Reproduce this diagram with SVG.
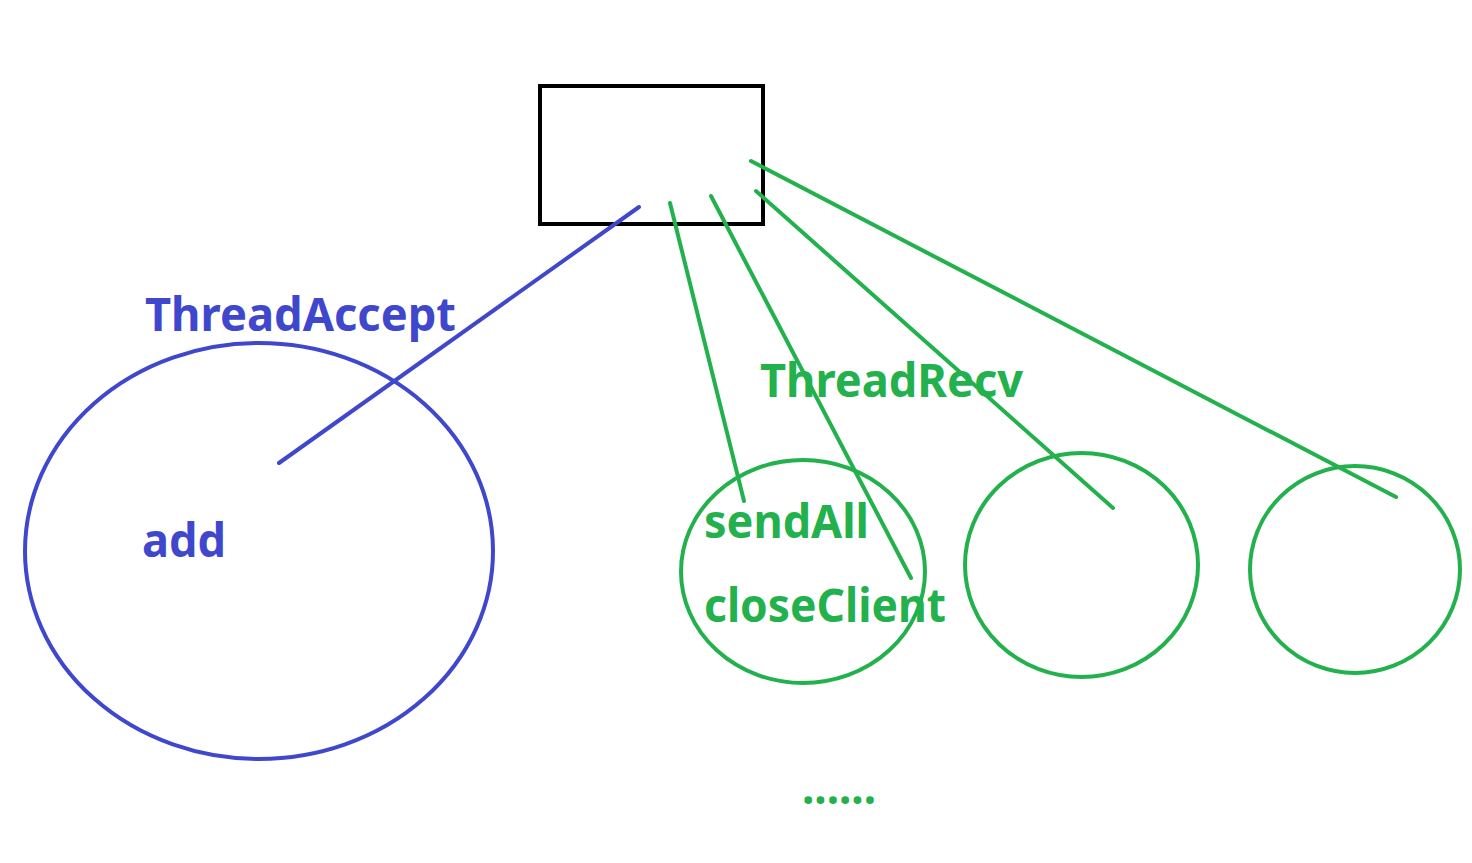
<svg xmlns="http://www.w3.org/2000/svg" width="1472" height="863" viewBox="0 0 1472 863">
<style>
.blue{stroke:#3F48CC;fill:none;stroke-width:4;stroke-linecap:round}
.green{stroke:#22B14C;fill:none;stroke-width:4;stroke-linecap:round}
.tb{fill:#3F48CC;font-family:"Noto Sans","Open Sans","DejaVu Sans",sans-serif;font-weight:bold;font-size:46px}
.tg{fill:#22B14C;font-family:"Noto Sans","Open Sans","DejaVu Sans",sans-serif;font-weight:bold;font-size:46px}
</style>
<rect width="1472" height="863" fill="#ffffff"/>
<g id="main-box">
<rect x="540" y="86" width="223" height="138" fill="none" stroke="#000" stroke-width="4"/>
</g>
<g id="thread-accept">
<ellipse class="blue" cx="259" cy="551" rx="234" ry="208"/>
<text class="tb" x="145" y="331" textLength="311" lengthAdjust="spacingAndGlyphs">ThreadAccept</text>
<text class="tb" x="142" y="557" textLength="84" lengthAdjust="spacingAndGlyphs">add</text>
</g>
<g id="thread-recv-1">
<ellipse class="green" cx="803" cy="571.5" rx="122" ry="111.5"/>
<text class="tg" x="704" y="538" textLength="165" lengthAdjust="spacingAndGlyphs">sendAll</text>
<text class="tg" x="704" y="622" textLength="242" lengthAdjust="spacingAndGlyphs">closeClient</text>
</g>
<g id="thread-recv-2">
<ellipse class="green" cx="1081.5" cy="565" rx="116.5" ry="112"/>
</g>
<g id="thread-recv-3">
<ellipse class="green" cx="1355" cy="569.5" rx="105" ry="103.5"/>
</g>
<g id="labels">
<text class="tg" x="760" y="397" textLength="263" lengthAdjust="spacingAndGlyphs">ThreadRecv</text>
<text class="tg" x="802" y="804" textLength="74" lengthAdjust="spacingAndGlyphs">......</text>
</g>
<g id="connectors">
<line class="blue" x1="639" y1="207" x2="279" y2="463"/>
<line class="green" x1="670" y1="203" x2="744" y2="501"/>
<line class="green" x1="711" y1="196" x2="911" y2="578"/>
<line class="green" x1="756" y1="191" x2="1113" y2="508"/>
<line class="green" x1="751" y1="161" x2="1396" y2="497"/>
</g>
</svg>
